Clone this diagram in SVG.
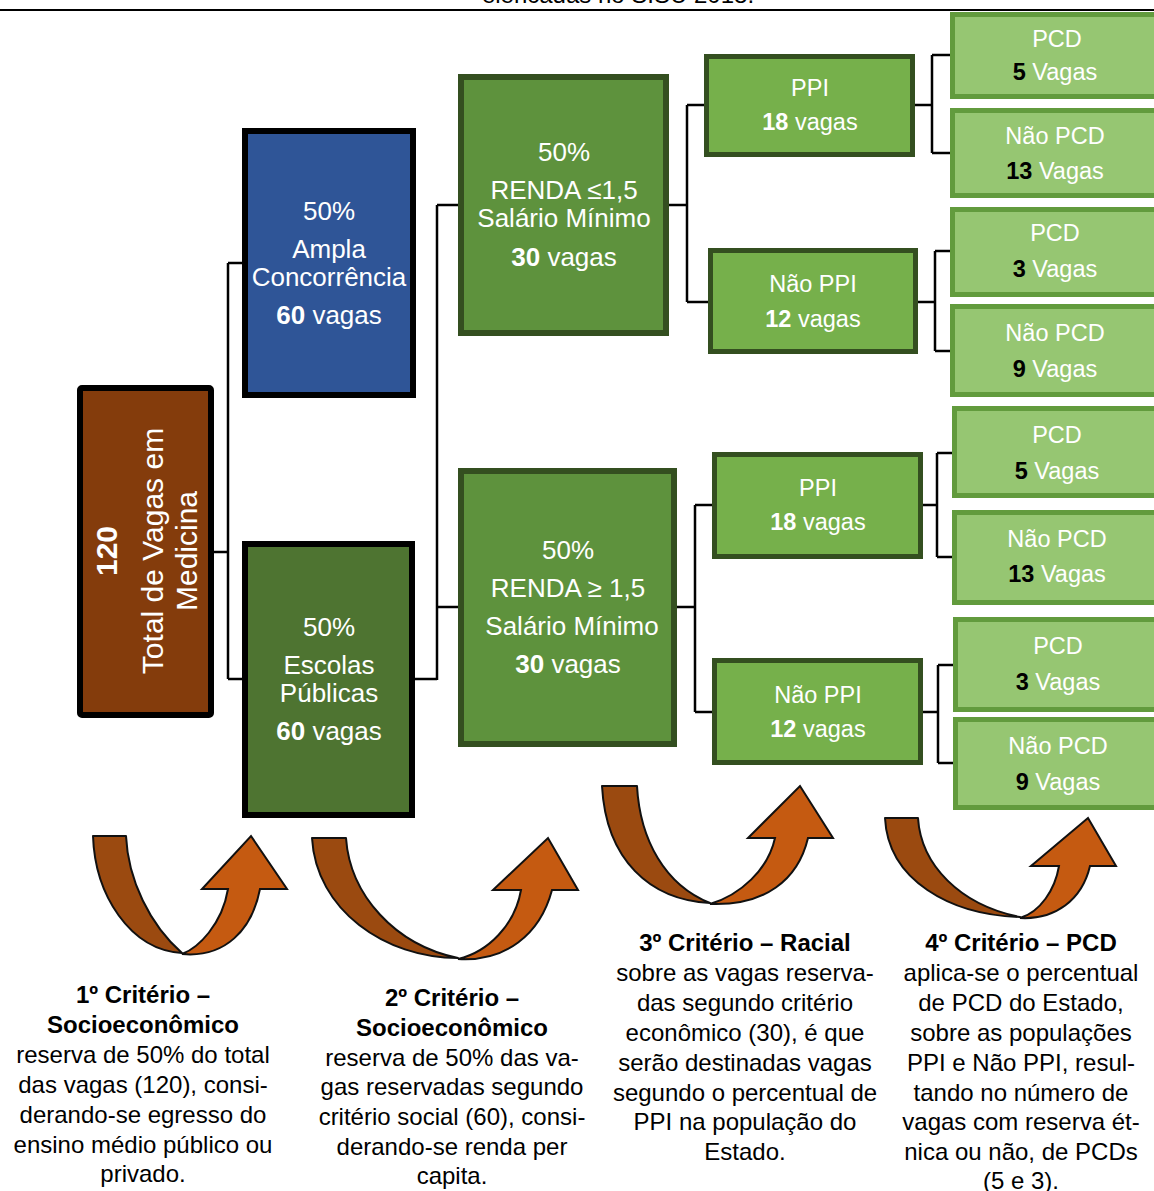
<svg xmlns="http://www.w3.org/2000/svg" width="1154" height="1191" viewBox="0 0 1154 1191">
  <style>
    .t { font-family: "Liberation Sans", Arial, sans-serif; fill: #fff; text-anchor: middle; }
    .big { font-size: 26px; }
    .mid { font-size: 23.5px; }
    .cap { font-size: 24px; fill: #000; }
    .b { font-weight: bold; }
    .k { fill: #000; }
    .blk { stroke: #000; stroke-width: 6; }
    .inc { fill: #5E923D; stroke: #344F20; stroke-width: 6; }
    .race { fill: #76B04B; stroke: #344F20; stroke-width: 5; }
    .pcd { fill: #96C672; stroke: #629B3D; stroke-width: 5; }
    .conn { fill: none; stroke: #000; stroke-width: 2.5; }
    .back { fill: #9B4A10; stroke: #111; stroke-width: 2; stroke-linejoin: round; }
    .front { fill: #C55A11; stroke: #111; stroke-width: 2; stroke-linejoin: miter; }
  </style>

  <!-- caption remnant and rule at the top -->
  <text class="t cap" x="618" y="3">elencadas no SISU 2018.</text>
  <line x1="0" y1="10" x2="1154" y2="10" stroke="#000" stroke-width="2"/>

  <!-- connectors -->
  <g id="connectors" class="conn">
    <path d="M214,552 H228 M228,263 V679 M228,263 H242 M228,679 H242"/>
    <path d="M415,679 H437 M437,205 V680 M437,205 H458 M437,607 H458"/>
    <path d="M669,205 H687 M687,105 V302 M687,105 H704 M687,302 H708"/>
    <path d="M677,607 H695 M695,505 V712 M695,505 H712 M695,712 H712"/>
    <path d="M915,105 H932 M932,55 V153 M932,55 H950 M932,153 H950"/>
    <path d="M918,302 H935 M935,251 V351 M935,251 H950 M935,351 H950"/>
    <path d="M923,505 H937 M937,453 V557 M937,453 H952 M937,557 H952"/>
    <path d="M923,712 H938 M938,665 V763 M938,665 H953 M938,763 H953"/>
  </g>

  <!-- total -->
  <g id="total">
    <rect class="blk" x="80" y="388" width="131" height="327" rx="2" fill="#843C0C"/>
    <g transform="translate(146,551) rotate(-90)">
      <text class="t b" x="0" y="-29" font-size="30">120</text>
      <text class="t" x="0" y="17" font-size="30">Total de Vagas em</text>
      <text class="t" x="0" y="51" font-size="30">Medicina</text>
    </g>
  </g>

  <!-- first split -->
  <g id="ampla">
    <rect class="blk" x="245" y="131" width="168" height="264" fill="#2F5597"/>
    <text class="t big" x="329" y="220">50%</text>
    <text class="t big" x="329" y="258">Ampla</text>
    <text class="t big" x="329" y="286">Concorrência</text>
    <text class="t big" x="329" y="324"><tspan class="b">60</tspan> vagas</text>
  </g>
  <g id="escolas">
    <rect class="blk" x="245" y="544" width="167" height="271" fill="#4E7431"/>
    <text class="t big" x="329" y="636">50%</text>
    <text class="t big" x="329" y="674">Escolas</text>
    <text class="t big" x="329" y="702">Públicas</text>
    <text class="t big" x="329" y="740"><tspan class="b">60</tspan> vagas</text>
  </g>

  <!-- income split -->
  <g id="renda-baixa">
    <rect class="inc" x="461" y="77" width="205" height="256"/>
    <text class="t big" x="564" y="161">50%</text>
    <text class="t big" x="564" y="199">RENDA ≤1,5</text>
    <text class="t big" x="564" y="227">Salário Mínimo</text>
    <text class="t big" x="564" y="266"><tspan class="b">30</tspan> vagas</text>
  </g>
  <g id="renda-alta">
    <rect class="inc" x="461" y="471" width="213" height="273"/>
    <text class="t big" x="568" y="559">50%</text>
    <text class="t big" x="568" y="597">RENDA ≥ 1,5</text>
    <text class="t big" x="572" y="635">Salário Mínimo</text>
    <text class="t big" x="568" y="673"><tspan class="b">30</tspan> vagas</text>
  </g>

  <!-- racial split -->
  <g id="ppi-1">
    <rect class="race" x="706.5" y="56.5" width="206" height="98"/>
    <text class="t mid" x="810" y="96">PPI</text>
    <text class="t mid" x="810" y="130"><tspan class="b">18</tspan> vagas</text>
  </g>
  <g id="nao-ppi-1">
    <rect class="race" x="710.5" y="250.5" width="205" height="101"/>
    <text class="t mid" x="813" y="292">Não PPI</text>
    <text class="t mid" x="813" y="327"><tspan class="b">12</tspan> vagas</text>
  </g>
  <g id="ppi-2">
    <rect class="race" x="714.5" y="454.5" width="206" height="102"/>
    <text class="t mid" x="818" y="496">PPI</text>
    <text class="t mid" x="818" y="530"><tspan class="b">18</tspan> vagas</text>
  </g>
  <g id="nao-ppi-2">
    <rect class="race" x="714.5" y="660.5" width="206" height="102"/>
    <text class="t mid" x="818" y="703">Não PPI</text>
    <text class="t mid" x="818" y="737"><tspan class="b">12</tspan> vagas</text>
  </g>

  <!-- disability split -->
  <g id="pcd-1">
    <rect class="pcd" x="952.5" y="14.5" width="210" height="82"/>
    <text class="t mid" x="1057" y="47">PCD</text>
    <text class="t mid" x="1055" y="80"><tspan class="b k">5</tspan> Vagas</text>
  </g>
  <g id="nao-pcd-1">
    <rect class="pcd" x="952.5" y="110.5" width="210" height="85"/>
    <text class="t mid" x="1055" y="144">Não PCD</text>
    <text class="t mid" x="1055" y="179"><tspan class="b k">13</tspan> Vagas</text>
  </g>
  <g id="pcd-2">
    <rect class="pcd" x="952.5" y="209.5" width="210" height="85"/>
    <text class="t mid" x="1055" y="241">PCD</text>
    <text class="t mid" x="1055" y="277"><tspan class="b k">3</tspan> Vagas</text>
  </g>
  <g id="nao-pcd-2">
    <rect class="pcd" x="952.5" y="306.5" width="210" height="88"/>
    <text class="t mid" x="1055" y="341">Não PCD</text>
    <text class="t mid" x="1055" y="377"><tspan class="b k">9</tspan> Vagas</text>
  </g>
  <g id="pcd-3">
    <rect class="pcd" x="954.5" y="408.5" width="210" height="87"/>
    <text class="t mid" x="1057" y="443">PCD</text>
    <text class="t mid" x="1057" y="479"><tspan class="b k">5</tspan> Vagas</text>
  </g>
  <g id="nao-pcd-3">
    <rect class="pcd" x="954.5" y="512.5" width="210" height="90"/>
    <text class="t mid" x="1057" y="547">Não PCD</text>
    <text class="t mid" x="1057" y="582"><tspan class="b k">13</tspan> Vagas</text>
  </g>
  <g id="pcd-4">
    <rect class="pcd" x="955.5" y="619.5" width="210" height="90"/>
    <text class="t mid" x="1058" y="654">PCD</text>
    <text class="t mid" x="1058" y="690"><tspan class="b k">3</tspan> Vagas</text>
  </g>
  <g id="nao-pcd-4">
    <rect class="pcd" x="955.5" y="719.5" width="210" height="88"/>
    <text class="t mid" x="1058" y="754">Não PCD</text>
    <text class="t mid" x="1058" y="790"><tspan class="b k">9</tspan> Vagas</text>
  </g>

  <!-- curved step arrows -->
  <g id="arrow-1">
    <path class="back" d="M93,836 L126,836 C128,880 150,925 182,953 C130,950 95,895 93,836 Z"/>
    <path class="front" d="M182,954 C198,948 222,925 228,889 L202,889 L251,836 L287,889 L260,889 C252,930 225,958 182,954 Z"/>
  </g>
  <g id="arrow-2">
    <path class="back" d="M312,838 L346,838 C350,895 395,945 458,958 C385,958 316,910 312,838 Z"/>
    <path class="front" d="M458,959 C488,952 515,925 521,890 L493,890 L548,838 L578,890 L552,890 C540,935 505,962 458,959 Z"/>
  </g>
  <g id="arrow-3">
    <path class="back" d="M602,786 L637,786 C640,840 665,885 710,903 C650,900 606,860 602,786 Z"/>
    <path class="front" d="M710,904 C740,895 768,870 775,838 L748,838 L800,786 L833,838 L808,838 C798,880 765,906 710,904 Z"/>
  </g>
  <g id="arrow-4">
    <path class="back" d="M885,818 L918,818 C921,865 960,905 1020,917 C950,915 888,880 885,818 Z"/>
    <path class="front" d="M1020,918 C1040,912 1055,890 1059,866 L1031,866 L1088,818 L1116,866 L1090,866 C1082,900 1055,920 1020,918 Z"/>
  </g>

  <!-- criteria notes -->
  <g id="criterio-1" class="t cap">
    <text class="b" x="143" y="1003">1º Critério –</text>
    <text class="b" x="143" y="1033">Socioeconômico</text>
    <text x="143" y="1063">reserva de 50% do total</text>
    <text x="143" y="1093">das vagas (120), consi-</text>
    <text x="143" y="1123">derando-se egresso do</text>
    <text x="143" y="1153">ensino médio público ou</text>
    <text x="143" y="1182">privado.</text>
  </g>
  <g id="criterio-2" class="t cap">
    <text class="b" x="452" y="1006">2º Critério –</text>
    <text class="b" x="452" y="1036">Socioeconômico</text>
    <text x="452" y="1066">reserva de 50% das va-</text>
    <text x="452" y="1095">gas reservadas segundo</text>
    <text x="452" y="1125">critério social (60), consi-</text>
    <text x="452" y="1155">derando-se renda per</text>
    <text x="452" y="1184">capita.</text>
  </g>
  <g id="criterio-3" class="t cap">
    <text class="b" x="745" y="951">3º Critério – Racial</text>
    <text x="745" y="981">sobre as vagas reserva-</text>
    <text x="745" y="1011">das segundo critério</text>
    <text x="745" y="1041">econômico (30), é que</text>
    <text x="745" y="1071">serão destinadas vagas</text>
    <text x="745" y="1101">segundo o percentual de</text>
    <text x="745" y="1130">PPI na população do</text>
    <text x="745" y="1160">Estado.</text>
  </g>
  <g id="criterio-4" class="t cap">
    <text class="b" x="1021" y="951">4º Critério – PCD</text>
    <text x="1021" y="981">aplica-se o percentual</text>
    <text x="1021" y="1011">de PCD do Estado,</text>
    <text x="1021" y="1041">sobre as populações</text>
    <text x="1021" y="1071">PPI e Não PPI, resul-</text>
    <text x="1021" y="1101">tando no número de</text>
    <text x="1021" y="1130">vagas com reserva ét-</text>
    <text x="1021" y="1160">nica ou não, de PCDs</text>
    <text x="1021" y="1189">(5 e 3).</text>
  </g>
</svg>
